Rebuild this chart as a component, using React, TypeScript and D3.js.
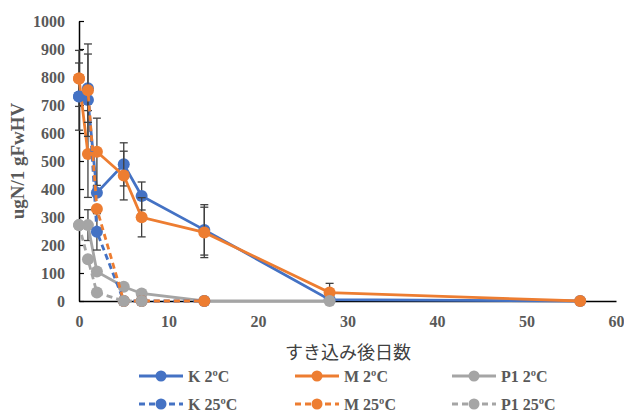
import { useEffect, useRef } from "react";
import * as d3 from "d3";

const days = [0, 1, 2, 5, 7, 14, 28, 56];

const k2 = [730, 718, 387, 488, 375, 254, 5, 0];
const m2 = [795, 525, 533, 448, 299, 245, 30, 0];
const p2 = [271, 271, 105, 51, 27, 0, 0];
const k25 = [730, 760, 247, 0, 0, 0];
const m25 = [795, 753, 329, 0, 0, 0];
const p25 = [271, 149, 30, 0, 0];

const k2Err = [120, 0, 0, 77, 50, 90, 0, 0];
const m2Err = [100, 155, 120, 87, 70, 90, 33, 0];
const p2Err = [0, 55, 0, 0, 0, 0, 0];
const k25Err = [0, 122, 65, 0, 0, 0];
const m25Err = [0, 165, 0, 0, 0, 0];
const p25Err = [0, 0, 0, 0, 0];

const yTicks = [0, 100, 200, 300, 400, 500, 600, 700, 800, 900, 1000];
const xTicks = [0, 10, 20, 30, 40, 50, 60];

const series = [
  { name: "K 2ºC", values: k2, err: k2Err, color: "#4472C4", dashed: false },
  { name: "M 2ºC", values: m2, err: m2Err, color: "#ED7D31", dashed: false },
  { name: "P1 2ºC", values: p2, err: p2Err, color: "#A5A5A5", dashed: false },
  { name: "K 25ºC", values: k25, err: k25Err, color: "#4472C4", dashed: true },
  { name: "M 25ºC", values: m25, err: m25Err, color: "#ED7D31", dashed: true },
  { name: "P1 25ºC", values: p25, err: p25Err, color: "#A5A5A5", dashed: true },
];

export default function App() {
  const ref = useRef<SVGSVGElement>(null);

  useEffect(() => {
    const width = 624;
    const height = 414;
    const margin = { top: 21, right: 8, bottom: 113, left: 79 };
    const serif = "'Liberation Serif', 'DejaVu Serif', serif";

    const svg = d3.select(ref.current);
    svg.selectAll("*").remove();

    const x = d3.scaleLinear().domain([0, 60]).range([margin.left, width - margin.right]);
    const y = d3.scaleLinear().domain([0, 1000]).range([height - margin.bottom, margin.top]);

    // y axis, ticks inside
    const yAxis = svg
      .append("g")
      .attr("transform", `translate(${margin.left},0)`)
      .call(
        d3.axisLeft(y).tickValues(yTicks).tickFormat(d3.format("d"))
          .tickSizeInner(-5).tickSizeOuter(0).tickPadding(14)
      );
    yAxis.select(".domain").attr("stroke", "#000").attr("stroke-width", 1.5);
    yAxis.selectAll(".tick line").attr("stroke", "#000").attr("stroke-width", 1.2);
    yAxis
      .selectAll(".tick text")
      .attr("fill", "#595959")
      .style("font-family", serif)
      .style("font-weight", "bold")
      .style("font-size", "16px");

    const xAxis = svg
      .append("g")
      .attr("transform", `translate(0,${y(0)})`)
      .call(d3.axisBottom(x).tickValues(xTicks).tickSize(0).tickPadding(15));
    xAxis.select(".domain").attr("stroke", "#000").attr("stroke-width", 1.5);
    xAxis
      .selectAll(".tick text")
      .attr("fill", "#595959")
      .style("font-family", serif)
      .style("font-weight", "bold")
      .style("font-size", "16px");

    // axis titles
    svg
      .append("text")
      .attr("transform", `translate(24,${(y(0) + y(1000)) / 2}) rotate(-90)`)
      .attr("text-anchor", "middle")
      .attr("fill", "#595959")
      .style("font-family", serif)
      .style("font-weight", "bold")
      .style("font-size", "19px")
      .text("ugN/1 gFwHV");

    svg
      .append("text")
      .attr("x", 348)
      .attr("y", 359)
      .attr("text-anchor", "middle")
      .attr("fill", "#404040")
      .style("font-family", "'Noto Sans CJK JP', sans-serif")
      .style("font-size", "18px")
      .text("すき込み後日数");

    const line = d3
      .line<number>()
      .x((_, i) => x(days[i]))
      .y((d) => y(d));

    series.forEach((s) => {
      const g = svg.append("g");

      // error bars
      s.values.forEach((v, i) => {
        const e = s.err[i];
        if (!e) return;
        const cx = x(days[i]);
        const top = y(Math.min(v + e, 1000));
        const bot = y(Math.max(v - e, 0));
        g.append("line")
          .attr("x1", cx).attr("x2", cx).attr("y1", top).attr("y2", bot)
          .attr("stroke", "#404040").attr("stroke-width", 1.3);
        [top, bot].forEach((yy) =>
          g.append("line")
            .attr("x1", cx - 4).attr("x2", cx + 4).attr("y1", yy).attr("y2", yy)
            .attr("stroke", "#404040").attr("stroke-width", 1.3)
        );
      });

      g.append("path")
        .datum(s.values)
        .attr("d", line)
        .attr("fill", "none")
        .attr("stroke", s.color)
        .attr("stroke-width", 2.8)
        .attr("stroke-dasharray", s.dashed ? "6,4" : null);

      g.selectAll("circle")
        .data(s.values)
        .enter()
        .append("circle")
        .attr("cx", (_, i) => x(days[i]))
        .attr("cy", (d) => y(d))
        .attr("r", 6)
        .attr("fill", s.color);
    });

    // legend
    const colX = [139, 295, 452];
    const rowY = [376, 404];
    series.forEach((s, i) => {
      const lx = colX[i % 3];
      const ly = rowY[Math.floor(i / 3)];
      const g = svg.append("g").attr("transform", `translate(${lx},${ly})`);
      g.append("line")
        .attr("x1", 0).attr("x2", 44).attr("y1", 0).attr("y2", 0)
        .attr("stroke", s.color).attr("stroke-width", 2.8)
        .attr("stroke-dasharray", s.dashed ? "6,4" : null);
      g.append("circle").attr("cx", 22).attr("cy", 0).attr("r", 5.5).attr("fill", s.color);
      g.append("text")
        .attr("x", 49)
        .attr("y", 5.5)
        .attr("fill", "#595959")
        .style("font-family", serif)
        .style("font-weight", "bold")
        .style("font-size", "16px")
        .text(s.name);
    });
  }, []);

  return (
    <svg
      ref={ref}
      width={624}
      height={414}
      style={{ position: "absolute", left: 0, top: 0, background: "#fff" }}
    />
  );
}
